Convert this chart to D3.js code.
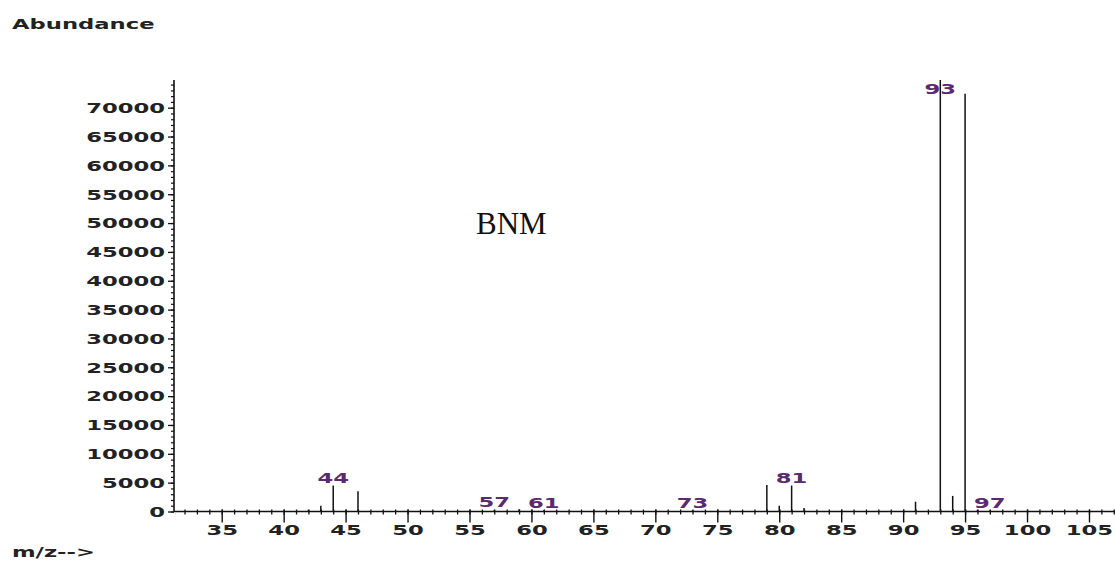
<!DOCTYPE html>
<html>
<head>
<meta charset="utf-8">
<script src="https://cdn.jsdelivr.net/npm/d3@7"></script>
<style>
  html, body { margin: 0; padding: 0; background: #fff; }
  svg { display: block; }
</style>
</head>
<body>
<svg id="chart" width="1115" height="564"></svg>
<script>
// ---- data ----
const mz        = [42, 43, 44, 46, 57, 59, 61, 73, 79, 80, 81, 82, 91, 93, 94, 95, 96, 97];
const abundance = [300, 1000, 4500, 3500, 300, 400, 200, 200, 4600, 1000, 4500, 600, 1700, 74800, 2700, 72400, 300, 200];
const labeledPeaks = [44, 57, 61, 73, 81, 93, 97];
const xMajorTicks = [35, 40, 45, 50, 55, 60, 65, 70, 75, 80, 85, 90, 95, 100, 105];
const yMajorTicks = [0, 5000, 10000, 15000, 20000, 25000, 30000, 35000, 40000, 45000, 50000, 55000, 60000, 65000, 70000];
const sampleName = "BNM";
const yTitle = "Abundance";
const xTitle = "m/z-->";

(function () {
// ---- layout ----
const svg = d3.select("#chart");
const mLeft = 174, mRight = 1115, mTop = 80, mBottom = 511.5;
const SX = 1.68;           // horizontal stretch for the extended axis font
const FONT = "DejaVu Sans";
const FS = 13.5;

const x = d3.scaleLinear().domain([31.15, 107.1]).range([mLeft, mRight]);
const y = d3.scaleLinear().domain([0, 74800]).range([mBottom, mTop]);

const xMinor = d3.range(32, 108);
const yMinor = d3.range(0, 75000, 1000);

function styleText(sel, color) {
  sel.attr("font-family", FONT).attr("font-weight", "bold")
     .attr("font-size", FS).attr("fill", color);
}

// x axis minor
const gxMinor = svg.append("g").attr("transform", `translate(0,${mBottom})`)
  .call(d3.axisBottom(x).tickValues(xMinor).tickSize(3).tickFormat(""));
gxMinor.select(".domain").remove();
gxMinor.selectAll(".tick line").attr("y1", -2).attr("stroke", "#111").attr("stroke-width", 1.3);

// x axis major
const gx = svg.append("g").attr("transform", `translate(0,${mBottom})`)
  .call(d3.axisBottom(x).tickValues(xMajorTicks).tickSize(11).tickSizeOuter(0).tickFormat(d3.format("d")));
gx.select(".domain").attr("stroke", "#111").attr("stroke-width", 1.6)
  .attr("d", `M${mLeft},0H${mRight}`);
gx.selectAll(".tick line").attr("y1", -2).attr("stroke", "#111").attr("stroke-width", 1.4);
gx.selectAll(".tick text")
  .call(styleText, "#222")
  .attr("y", 24).attr("dy", 0)
  .attr("transform", `scale(${SX},1)`);

// y axis minor
const gyMinor = svg.append("g").attr("transform", `translate(${mLeft},0)`)
  .call(d3.axisLeft(y).tickValues(yMinor).tickSize(3).tickFormat(""));
gyMinor.select(".domain").remove();
gyMinor.selectAll(".tick line").attr("stroke", "#111").attr("stroke-width", 1.2);

// y axis major
const gy = svg.append("g").attr("transform", `translate(${mLeft},0)`)
  .call(d3.axisLeft(y).tickValues(yMajorTicks).tickSize(6).tickSizeOuter(0).tickFormat(d3.format("d")));
gy.select(".domain").attr("stroke", "#111").attr("stroke-width", 1.6)
  .attr("d", `M0,${mTop}V${mBottom}`);
gy.selectAll(".tick line").attr("stroke", "#111").attr("stroke-width", 1.3);
gy.selectAll(".tick text")
  .call(styleText, "#222")
  .attr("x", -9 / SX).attr("dy", "0.36em")
  .attr("transform", `scale(${SX},1)`);

// sticks
const peaks = mz.map((m, i) => ({ m, v: abundance[i] }));
svg.append("g").selectAll("line").data(peaks).join("line")
  .attr("x1", d => x(d.m)).attr("x2", d => x(d.m))
  .attr("y1", y(0)).attr("y2", d => y(d.v))
  .attr("stroke", "#111").attr("stroke-width", 1.5);

// peak labels
const lab = peaks.filter(d => labeledPeaks.includes(d.m));
svg.append("g").selectAll("text").data(lab).join("text")
  .attr("transform", d => `translate(${x(d.m)},${Math.max(y(d.v) - 2.5, mTop + 14)}) scale(${SX},1)`)
  .attr("text-anchor", "middle")
  .call(styleText, "#5b2a6e")
  .text(d => d.m);

// titles
svg.append("text")
  .attr("transform", `translate(12,28.5) scale(${SX},1)`)
  .call(styleText, "#222").text(yTitle);
svg.append("text")
  .attr("transform", `translate(12,557) scale(${SX},1)`)
  .call(styleText, "#222").text(xTitle);

// sample name
svg.append("text")
  .attr("x", 476).attr("y", 233.5)
  .attr("font-family", "Liberation Serif").attr("font-size", 31)
  .attr("fill", "#111").text(sampleName);
})();
</script>
</body>
</html>
